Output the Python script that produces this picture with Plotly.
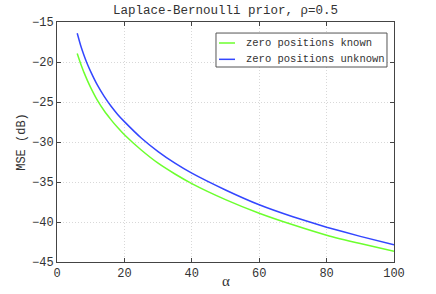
import plotly.graph_objects as go

alpha = [6, 7, 8, 9, 10, 12, 14, 16, 18, 20, 25, 30, 35, 40, 50, 60, 70, 80, 90, 100]
mse_known = [-18.95, -20.2, -21.3, -22.3, -23.2, -24.8, -26.1, -27.2, -28.2, -29.1,
             -31.0, -32.65, -34.0, -35.2, -37.2, -38.9, -40.35, -41.65, -42.7, -43.65]
mse_unknown = [-16.4, -17.9, -19.15, -20.25, -21.2, -22.9, -24.3, -25.5, -26.55, -27.45,
               -29.5, -31.2, -32.65, -33.9, -36.0, -37.85, -39.35, -40.65, -41.8, -42.85]
names = ["zero positions known", "zero positions unknown"]
colors = ["#6cff2e", "#3346ff"]
x_ticks = [0, 20, 40, 60, 80, 100]
y_ticks = [-45, -40, -35, -30, -25, -20, -15]

FONT = "Liberation Mono"

fig = go.Figure()
for ys, nm, c in zip([mse_known, mse_unknown], names, colors):
    fig.add_trace(go.Scatter(x=alpha, y=ys, mode="lines", name=nm, showlegend=False,
                             line=dict(color=c, width=1.5, shape="spline", smoothing=0.4)))

# MATLAB-style legend box (layout in paper coordinates)
leg_x0, leg_x1, leg_y0, leg_y1 = 0.4718, 0.9792, 0.8125, 0.954
row_y = [0.9125, 0.8445]
line_x0, line_x1, text_x = 0.4807, 0.5282, 0.5545
fig.add_shape(type="rect", xref="paper", yref="paper", x0=leg_x0, x1=leg_x1, y0=leg_y0, y1=leg_y1,
              line=dict(color="#555", width=1), fillcolor="white", layer="above")
for nm, c, ry in zip(names, colors, row_y):
    fig.add_shape(type="line", xref="paper", yref="paper", x0=line_x0, x1=line_x1, y0=ry, y1=ry,
                  line=dict(color=c, width=1.5), layer="above")
    fig.add_annotation(xref="paper", yref="paper", x=text_x, y=ry, text=nm, showarrow=False,
                       xanchor="left", yanchor="middle",
                       font=dict(family=FONT, size=10.5, color="#333"))

# x-axis title
fig.add_annotation(xref="paper", yref="paper", x=0.5, y=-0.079, text="α", showarrow=False,
                   xanchor="center", yanchor="middle",
                   font=dict(family="Liberation Serif", size=15, color="#333"))

axis_common = dict(
    showline=True, linecolor="#444", linewidth=1, mirror="ticks",
    ticks="inside", ticklen=4, tickcolor="#444",
    showgrid=True, gridcolor="#d8d8d8", griddash="1px,2px", gridwidth=1,
    zeroline=False, automargin=False,
    tickfont=dict(family=FONT, size=12, color="#333"),
)

fig.update_layout(
    width=436, height=294,
    margin=dict(l=57, r=42, t=22, b=32),
    paper_bgcolor="white", plot_bgcolor="white",
    title=dict(text="Laplace-Bernoulli prior, ρ=0.5", x=0.5, xref="paper", xanchor="center",
               y=0.966, yanchor="middle",
               font=dict(family=FONT, size=12.5, color="#333")),
    xaxis=dict(range=[0, 100], tickvals=x_ticks, **axis_common),
    yaxis=dict(range=[-45, -15], tickvals=y_ticks,
               title=dict(text="MSE (dB)", font=dict(family=FONT, size=12, color="#333"),
                          standoff=3),
               **axis_common),
    showlegend=False,
)

fig.write_html("out.html", config={"displayModeBar": False},
               post_script="document.body.style.margin='0';document.body.style.overflow='hidden';")
